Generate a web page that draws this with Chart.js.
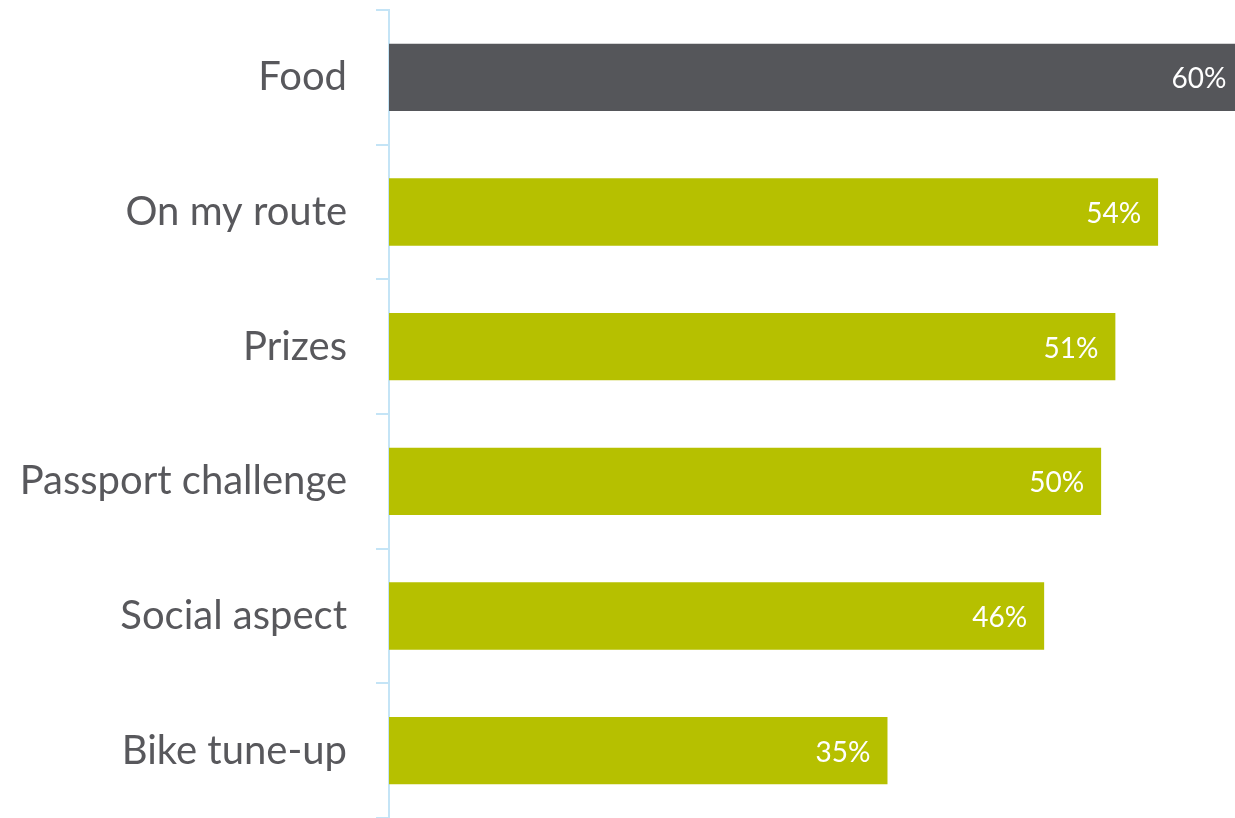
<!DOCTYPE html>
<html>
<head>
<meta charset="utf-8">
<title>Event draws</title>
<script src="https://cdn.jsdelivr.net/npm/chart.js@4/dist/chart.umd.min.js"></script>
<style>
    html, body { margin: 0; padding: 0; background: #ffffff; }
    #wrap { width: 1235px; height: 818px; position: relative; }
</style>
</head>
<body>
<div id="wrap"><canvas id="drawChart"></canvas></div>
<script>
// Survey results: what drew people to the event
const categories = ['Food', 'On my route', 'Prizes', 'Passport challenge', 'Social aspect', 'Bike tune-up'];
const shares = [60, 54, 51, 50, 46, 35];
const barColors = ['#55565a', '#b6c000', '#b6c000', '#b6c000', '#b6c000', '#b6c000'];

// Writes the percentage inside the end of each bar
const valueLabels = {
    id: 'valueLabels',
    afterDatasetsDraw(chart) {
        const ctx = chart.ctx;
        const meta = chart.getDatasetMeta(0);
        ctx.save();
        ctx.font = '28px Lato, "Open Sans", sans-serif';
        ctx.fillStyle = '#ffffff';
        ctx.textAlign = 'right';
        ctx.textBaseline = 'middle';
        meta.data.forEach(function (bar, i) {
            ctx.fillText(shares[i] + '%', bar.x - 17, bar.y + 2);
        });
        ctx.restore();
    }
};

const ctx = document.getElementById('drawChart').getContext('2d');
new Chart(ctx, {
    type: 'bar',
    data: {
        labels: categories,
        datasets: [{
            data: shares,
            backgroundColor: barColors,
            borderWidth: 0,
            barPercentage: 0.5,
            categoryPercentage: 1.0
        }]
    },
    options: {
        indexAxis: 'y',
        responsive: true,
        maintainAspectRatio: false,
        animation: false,
        layout: { padding: { top: 10, right: 0, bottom: -2, left: 0 } },
        plugins: {
            legend: { display: false },
            tooltip: { enabled: false }
        },
        scales: {
            x: {
                display: false,
                min: 0,
                max: 59.4
            },
            y: {
                afterFit: function (scale) {
                    // fixed gutter for the labels, no extra room above/below
                    scale.width = 389;
                    scale.paddingTop = 0;
                    scale.paddingBottom = 0;
                },
                grid: {
                    offset: true,
                    drawOnChartArea: false,
                    drawTicks: true,
                    tickLength: 13,
                    color: '#c4e4f6',
                    lineWidth: 2
                },
                border: { display: true, color: '#c4e4f6', width: 2 },
                ticks: {
                    color: '#58585c',
                    padding: 29,
                    font: { family: 'Lato, "Open Sans", sans-serif', size: 40 }
                }
            }
        }
    },
    plugins: [valueLabels]
});
</script>
</body>
</html>
